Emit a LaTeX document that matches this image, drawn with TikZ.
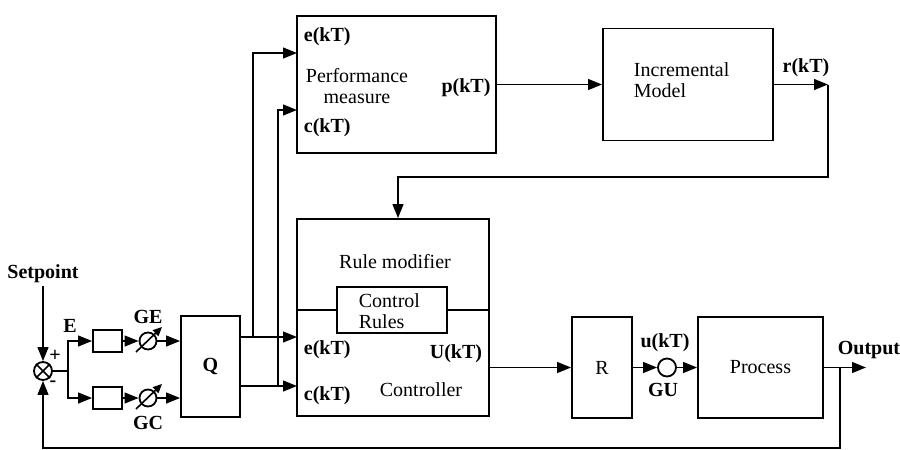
\documentclass[tikz,border=0pt]{standalone}
\usepackage{fontspec}
\setmainfont{Liberation Serif}
\usetikzlibrary{arrows.meta}

\begin{document}
\begin{tikzpicture}[x=0.5pt,y=-0.5pt,line width=0.9pt,
  font=\fontsize{10}{10.5}\selectfont,
  blk/.style={draw,inner sep=0pt},
  txt/.style={inner sep=1pt},
  sig/.style={inner sep=1pt,font=\fontsize{10}{10.5}\selectfont\bfseries},
  gain/.style={draw,circle,inner sep=0pt,minimum size=8.5pt},
  ar/.style={-{Triangle[length=7pt,width=5.4pt]}}]
\useasboundingbox (0,0) rectangle (900,450);

% summing junction and setpoint
\node[draw,circle,inner sep=0pt,minimum size=9pt] (sum) at (43,371) {};
\draw[line width=0.8pt] (sum.north west)--(sum.south east) (sum.north east)--(sum.south west);
\node[sig] (setp) at (43,274) {Setpoint};
\node[sig] (plus) at (55,356) {+};
\node[sig] (minus) at (53,384) {-};
\node[sig] (err) at (70,326) {E};

% scaling of e and c
\node[blk,minimum width=14.5pt,minimum height=11pt] (ke) at (107.5,341) {};
\node[blk,minimum width=14.5pt,minimum height=11pt] (kc) at (107.5,398) {};
\node[gain] (ge) at (148,341) {};
\node[gain] (gc) at (148,398) {};
\draw[-{Triangle[length=4.5pt,width=4pt]},line width=0.8pt] ([shift={(-12,11)}]ge.center)--([shift={(14,-14)}]ge.center);
\draw[-{Triangle[length=4.5pt,width=4pt]},line width=0.8pt] ([shift={(-12,11)}]gc.center)--([shift={(14,-14)}]gc.center);
\node[sig] (gel) at (148,317) {GE};
\node[sig] (gcl) at (148,423) {GC};
\node[blk,minimum width=29.5pt,minimum height=50.5pt,font=\fontsize{10}{10.5}\selectfont\bfseries] (q) at (210.5,366.5) {Q};

% performance measure and model
\node[blk,minimum width=99.5pt,minimum height=68.5pt] (perf) at (396.5,84.5) {};
\node[txt,align=center] (perft) at (357,86) {Performance\\measure};
\node[sig,anchor=west] (pe) at (301,37) {e(kT)};
\node[sig,anchor=west] (pc) at (301,128) {c(kT)};
\node[sig] (pk) at (466,88) {p(kT)};
\node[blk,minimum width=85pt,minimum height=56pt] (inc) at (688,84.5) {};
\node[txt,align=left,anchor=west] (inct) at (631,80) {Incremental\\Model};
\node[sig] (rk) at (806,68) {r(kT)};

% controller with rule modifier
\node[blk,minimum width=96pt,minimum height=98.5pt] (ctrl) at (393,317.5) {};
\node[blk,minimum width=55pt,minimum height=23pt] (rules) at (392,310) {};
\draw (ctrl.west|-rules)--(rules.west) (rules.east)--(ctrl.east|-rules);
\node[txt,align=left,anchor=west] (rulest) at (356,311) {Control\\Rules};
\node[txt] (rmod) at (395,262) {Rule modifier};
\node[sig,anchor=west] (ce) at (301,350) {e(kT)};
\node[sig,anchor=east] (cu) at (485,354) {U(kT)};
\node[sig,anchor=west] (cc) at (301,396) {c(kT)};
\node[txt] (ctl) at (421,390) {Controller};

% plant side
\node[blk,minimum width=30pt,minimum height=50.5pt] (r) at (602,367.5) {R};
\node[draw,circle,inner sep=0pt,minimum size=9pt] (gu) at (667,367.5) {};
\node[sig] (uk) at (665,343) {u(kT)};
\node[sig] (gul) at (663,390) {GU};
\node[blk,minimum width=62.5pt,minimum height=50.5pt] (proc) at (760.5,367.5) {Process};
\node[sig] (out) at (869,350) {Output};

\coordinate (br) at (68,371);
\coordinate (ein) at (297,337);
\coordinate (cin) at (297,386);
\coordinate (tape) at (253,337);
\coordinate (tapc) at (278,386);
\coordinate (pein) at (297,53);
\coordinate (pcin) at (297,110);
\coordinate (rend) at (828,84.5);
\coordinate (rdown) at (398,177);
\coordinate (fb) at (840,367.5);
\coordinate (fbot) at (840,448);
\coordinate (oend) at (866,367.5);

\draw[ar] (setp)--(sum);
\draw (sum)--(br);
\draw[ar] (br)|-(ke);
\draw[ar] (br)|-(kc);
\draw[ar] (ke)--(ge);
\draw[ar] (kc)--(gc);
\draw[ar] (ge)--(ge-|q.west);
\draw[ar] (gc)--(gc-|q.west);
\draw[ar] (q.east|-ein)--(ein);
\draw[ar] (q.east|-cin)--(cin);
\draw[ar] (tape)|-(pein);
\draw[ar] (tapc)|-(pcin);
\draw[ar] (perf.east|-inc.west)--(inc.west);
\draw[ar] (inc.east)--(rend);
\draw[ar] (rend)|-(rdown)--(rdown|-ctrl.north);
\draw[ar] (ctrl.east|-r.west)--(r.west);
\draw[ar] (r)--(gu);
\draw[ar] (gu)--(proc);
\draw[ar] (proc.east)--(oend);
\draw[ar] (fb)--(fbot)-|(sum.south);
\end{tikzpicture}
\end{document}
